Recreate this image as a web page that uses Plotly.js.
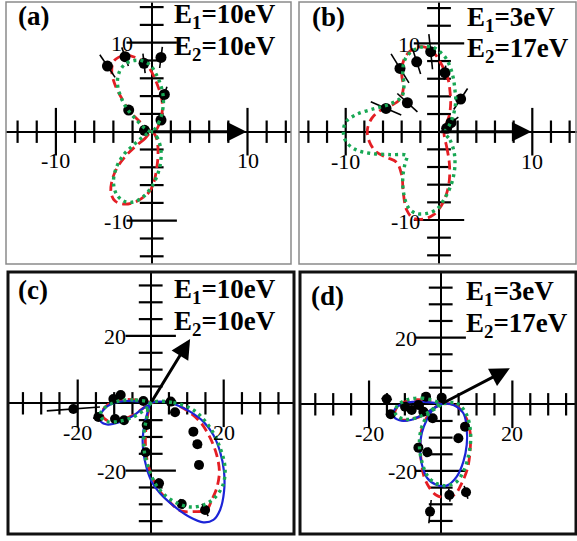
<!DOCTYPE html>
<html><head><meta charset="utf-8">
<script src="https://cdn.plot.ly/plotly-3.0.1.min.js"></script>
<style>html,body{margin:0;padding:0;background:#fff;}#chart{width:577px;height:541px;}</style>
</head><body><div id="chart"></div>
<script>
// ---------- data (axis units) ----------
// Panel (a)
const aRedX = [0,-1.22,-2.26,-3.13,-3.82,-4.17,-3.99,-3.47,-2.6,-1.74,-0.87,-0.24,0.24,0.69,1.04,1.11,0.87,0.45,0,null,0,-0.69,-1.74,-2.78,-3.65,-4.17,-4.24,-3.82,-2.95,-1.91,-1.04,-0.24,0.24,0.52,0.66,0.59,0.35,0];
const aRedY = [0,1.12,2.25,3.75,5.24,6.74,7.87,8.35,8.61,8.35,7.87,7.12,6.18,4.98,3.75,2.43,1.12,0.19,0,null,0,-0.75,-1.69,-2.81,-4.12,-5.62,-6.93,-7.79,-8.13,-7.98,-7.49,-6.74,-5.62,-4.12,-2.62,-1.12,-0.37,0];
const aGreenX = [0,0.69,1.11,1.22,0.94,0.45,-0.17,-1.04,-1.91,-2.78,-3.37,-3.58,-3.23,-2.6,-1.74,-0.69,0,null,0,0.52,0.94,0.94,0.59,0,-0.87,-1.91,-2.95,-3.72,-3.99,-3.72,-2.95,-1.91,-0.87,0];
const aGreenY = [0,0.94,2.25,3.75,5.24,6.48,7.49,7.98,7.98,7.6,6.74,5.43,3.93,2.62,1.5,0.37,0,null,0,-0.56,-1.87,-3.37,-4.87,-6.18,-7.3,-7.9,-7.79,-6.93,-5.62,-4.12,-2.62,-1.5,-0.56,0];
const aPtX = [-4.62,-2.78,-0.8,0.97,1.32,-2.4,0.97,-0.75];
const aPtY = [7.38,8.43,7.68,8.35,4.19,2.43,1.31,0.15];
const aPtErr = [1.5,1.1,1.1,1.2,0.9,0.3,0.6,0.2];
const aArrow = [9.9, 0];

// Panel (b)
const bRedX = [0.54,0.82,1.11,1.11,0.82,0.29,-0.61,-1.68,-2.75,-3.46,-3.82,-4.0,-4.54,-5.61,-6.75,-7.46,-7.68,-7.21,-6.32,-5.25,-4.25,-3.82,-4.0,-3.75,-3.04,-2.04,-1.14,-0.43,0.11,0.57,1.0,1.18,1.25,1.11,0.75,0.54];
const bRedY = [-0.19,-1.7,-3.58,-5.47,-6.98,-8.3,-9.43,-9.89,-9.81,-8.87,-6.98,-4.91,-3.47,-2.91,-2.26,-1.13,0.19,1.51,2.38,2.91,3.58,4.91,6.6,8.19,9.17,9.62,9.43,8.79,7.92,6.98,5.85,4.53,3.21,1.89,0.75,-0.19];
const bGreenX = [0.64,1.18,1.61,1.71,1.46,1.0,0.39,-0.25,-1.32,-2.46,-3.29,-3.75,-3.89,-3.64,-3.46,-5.25,-7.39,-9.0,-9.96,-10.25,-9.96,-8.82,-6.86,-5.25,-4.0,-3.75,-3.89,-3.64,-2.82,-1.68,-0.61,0.29,0.82,1.25,1.54,1.71,1.79,1.54,1.11,0.64];
const bGreenY = [-0.11,-0.94,-2.26,-3.77,-5.47,-6.79,-7.92,-8.79,-9.25,-9.25,-8.57,-7.17,-5.28,-3.58,-2.72,-2.6,-2.45,-2.0,-1.13,0,1.13,1.96,2.64,3.13,3.96,5.28,6.79,8.19,9.17,9.62,9.55,8.87,8.19,7.17,6.04,4.72,3.4,1.89,0.75,-0.11];
const bPtX = [-5.68,-3.39,-4.18,-2.39,-0.89,0.64,2.32,1.29,0.82];
const bPtY = [2.64,3.28,7.17,7.92,9.06,6.68,3.7,1.02,0.38];
const bPtErr = [1.8,1.5,1.9,1.45,2.0,0.8,1.4,1.0,0.3];
const bArrow = [9.9, 0];

// Panel (c)
const cBlueX = [0,3.47,7.12,10.78,14.43,17.17,19.0,20.09,20.09,19.0,17.17,14.43,10.78,6.21,2.56,0.27,-1.1,-2.01,-2.19,-1.55,-0.64,0,null,0,-2.92,-6.58,-10.23,-12.97,-14.06,-12.24,-8.58,-4.75,-1.83,0];
const cBlueY = [0,0.5,-0.5,-2.48,-5.45,-9.41,-14.36,-20.3,-26.24,-31.68,-34.65,-35.35,-33.86,-30.4,-26.73,-23.27,-19.31,-14.36,-10.4,-5.45,-1.98,0,null,0,0.5,0.69,0,-1.98,-4.65,-6.24,-5.64,-3.66,-1.29,0];
const cRedX = [0,4.38,8.95,13.33,16.26,18.08,18.81,18.08,16.71,15.34,11.69,8.04,5.3,2.56,0.55,-0.91,-1.46,-1.1,-0.46,0,null,0,-3.84,-8.4,-11.87,-13.42,-12.05,-8.4,-4.75,-1.83,0];
const cRedY = [0,0.5,-1.49,-5.25,-10.2,-15.35,-20.3,-25.25,-28.71,-31.68,-32.18,-31.88,-29.41,-26.24,-22.28,-17.33,-11.39,-5.45,-1.68,0,null,0,0.99,0.99,-0.5,-2.97,-5.05,-5.05,-3.47,-1.29,0];
const cGreenX = [0,6.21,11.69,16.26,19.0,20.37,19.73,17.35,14.43,10.78,7.12,3.65,1.19,-0.55,-1.74,-1.83,-1.1,0,null,0,-4.75,-9.32,-12.79,-13.88,-11.87,-8.22,-4.57,-1.55,0];
const cGreenY = [0,0.2,-1.98,-7.23,-13.17,-19.31,-24.46,-28.22,-30.2,-30.79,-29.6,-27.03,-23.76,-19.31,-14.36,-8.91,-4.46,0,null,0,0.99,0.5,-1.49,-3.66,-5.45,-5.25,-3.96,-1.78,0];
const cPtX = [-21.19,-14.34,-10.23,-8.22,-9.77,-7.31,-2.01,-1.1,-1.37,2.28,8.49,14.89,13.24,12.79,11.69,5.48,6.67];
const cPtY = [-1.68,-4.06,1.29,2.48,-4.65,-5.05,0.69,-6.44,-14.55,-23.76,-29.9,-31.68,-18.32,-12.18,-8.42,0.5,-2.67];
const cPtErr = [7.3,1.5,1,1,0.8,0.8,0.5,1.5,1,1.5,1.5,2,1.5,1.5,1,1.5,1];
const cArrow = [10.8, 19.1];

// Panel (d)
const dBlueX = [0,3.53,6.33,7.26,7.26,6.33,4.47,1.67,-1.12,-3.72,-5.21,-5.77,-5.3,-3.91,-1.86,0,null,0,-2.98,-6.7,-10.42,-12.74,-13.21,-11.53,-8.37,-4.84,-1.86,0];
const dBlueY = [0,-0.2,-2.7,-7.2,-12.2,-17.2,-21.7,-24.4,-24.2,-22.2,-18.2,-13.7,-8.7,-4.7,-1.2,0,null,0,0.6,0.8,0.2,-1.4,-3.4,-4.8,-4.7,-3.0,-1.2,0];
const dRedX = [0,4.0,6.79,8.19,8.19,7.44,5.86,4.0,1.21,-1.3,-3.16,-4.65,-5.4,-5.77,-5.21,-3.44,-1.3,0,null,0,-4.84,-9.3,-12.09,-12.74,-10.88,-7.16,-3.91,-1.12,0];
const dRedY = [0,-0.2,-3.4,-8.2,-14.2,-19.4,-23.7,-27.0,-28.0,-27.2,-25.0,-21.7,-17.2,-12.2,-7.2,-3.2,-0.7,0,null,0,1.3,1.0,-0.7,-3.2,-4.7,-4.2,-2.7,-0.7,0];
const dGreenX = [0,4.47,7.26,8.37,7.81,6.33,4.47,1.67,-1.12,-3.53,-5.21,-5.95,-5.4,-3.91,-1.58,0,null,0,-4.84,-9.49,-12.28,-12.47,-9.95,-6.7,-3.44,-0.65,0];
const dGreenY = [0,0.3,-3.2,-9.2,-15.2,-20.2,-23.2,-24.4,-23.8,-21.7,-17.4,-12.2,-7.2,-3.7,-0.8,0,null,0,1.8,1.3,-0.7,-3.2,-4.5,-4.0,-2.4,-0.7,0];
const dPtX = [-15.07,-13.95,-9.95,-8.09,-6.23,-4.09,-4.84,-2.23,0.28,6.79,4.93,-6.23,-3.72,2.42,7.07,-2.98];
const dPtY = [1.6,-3.0,-0.7,-1.7,-0.2,2.3,-2.2,-4.2,2.0,-6.7,-10.2,-13.0,-14.4,-27.2,-26.4,-32.2];
const dPtErr = [1.5,1,0.8,0.8,0.8,0.8,0.8,1,0.8,1.2,1.2,1.2,1.5,2,2,3.5];
const dArrow = [19.3, 10.8];

// Axis ticks and labels
const ticksAB = [-14,-12,-10,-8,-6,-4,-2,2,4,6,8,10,12,14];
const majorAB = [-10,10];
const labelsAB = ['-10','10'];
const ticksCD = [-35,-30,-25,-20,-15,-10,-5,5,10,15,20,25,30,35];
const majorCD = [-20,20];
const labelsCD = ['-20','20'];

const panelNames = ['(a)','(b)','(c)','(d)'];
const energy1 = ['10eV','3eV','10eV','3eV'];
const energy2 = ['10eV','17eV','10eV','17eV'];

// ---------- drawing ----------
const W = 577, H = 541;
const PX = v => v / W, PY = v => 1 - v / H;
const RED = 'rgb(228,30,36)', GREEN = 'rgb(24,168,84)', BLUE = 'rgb(28,36,215)';
const FONT = '"Liberation Serif", "Times New Roman", Times, serif';

function radialBars(xs, ys, es) {
  const bx = [], by = [];
  for (let i = 0; i < xs.length; i++) {
    const r = Math.hypot(xs[i], ys[i]) || 1;
    const ux = xs[i] / r, uy = ys[i] / r, e = es[i];
    bx.push(xs[i] - e * ux, xs[i] + e * ux, null);
    by.push(ys[i] - e * uy, ys[i] + e * uy, null);
  }
  return {bx, by};
}

const panels = [
  {s:'',  red:[aRedX,aRedY], green:[aGreenX,aGreenY], blue:null, pts:[aPtX,aPtY,aPtErr], arrow:aArrow,
   ticks:ticksAB, major:majorAB, labels:labelsAB,
   dom:[6,291,2,264], org:[151.7,131.7], sc:[9.58,8.9], frame:'#8a8a8a', fw:1.5,
   xlShift:-29, ylShift:-17, letter:[16,16], e1:[172,16], e2:[172,48], msize:11},
  {s:'2', red:[bRedX,bRedY], green:[bGreenX,bGreenY], blue:null, pts:[bPtX,bPtY,bPtErr], arrow:bArrow,
   ticks:ticksAB, major:majorAB, labels:labelsAB,
   dom:[299,577,2,264], org:[439,131.7], sc:[9.33,8.83], frame:'#8a8a8a', fw:1.5,
   xlShift:-30, ylShift:-17, letter:[310,17], e1:[465,19], e2:[465,50], msize:11},
  {s:'3', red:[cRedX,cRedY], green:[cGreenX,cGreenY], blue:[cBlueX,cBlueY], pts:[cPtX,cPtY,cPtErr], arrow:cArrow,
   ticks:ticksCD, major:majorCD, labels:labelsCD,
   dom:[8,294,272,534], org:[150.7,403.3], sc:[3.65,3.367], frame:'#111', fw:3,
   xlShift:-29, ylShift:-23, letter:[16,290], e1:[172,291], e2:[172,323], msize:10},
  {s:'4', red:[dRedX,dRedY], green:[dGreenX,dGreenY], blue:[dBlueX,dBlueY], pts:[dPtX,dPtY,dPtErr], arrow:dArrow,
   ticks:ticksCD, major:majorCD, labels:labelsCD,
   dom:[300,577,272,534], org:[440.7,404.3], sc:[3.583,3.333], frame:'#111', fw:3,
   xlShift:-29, ylShift:-22, letter:[309,296], e1:[464,293], e2:[464,325], msize:10}
];

const traces = [], annotations = [], shapes = [];
const layout = {
  width: W, height: H, margin:{l:0,r:0,t:0,b:0},
  paper_bgcolor:'#fff', plot_bgcolor:'rgba(0,0,0,0)', showlegend:false,
  font:{family:FONT, color:'#000'}
};

panels.forEach((p, idx) => {
  const xa = 'x' + p.s, ya = 'y' + p.s;
  const xr = [(p.dom[0]-p.org[0])/p.sc[0], (p.dom[1]-p.org[0])/p.sc[0]];
  const yr = [(p.org[1]-p.dom[3])/p.sc[1], (p.org[1]-p.dom[2])/p.sc[1]];
  const axBase = {showgrid:false, zeroline:true, zerolinecolor:'#000', zerolinewidth:2.2,
                  showticklabels:false, ticks:'', showline:false, fixedrange:true};
  layout['xaxis' + p.s] = Object.assign({}, axBase, {domain:[PX(p.dom[0]), PX(p.dom[1])], range:xr, anchor:ya});
  layout['yaxis' + p.s] = Object.assign({}, axBase, {domain:[PY(p.dom[3]), PY(p.dom[2])], range:yr, anchor:xa});

  const minor = p.ticks.filter(t => p.major.indexOf(t) < 0);
  const zerosMinor = minor.map(() => 0), zerosMajor = p.major.map(() => 0);
  const tk = (x, y, sym, size) => ({x, y, xaxis:xa, yaxis:ya, mode:'markers', hoverinfo:'skip',
     marker:{symbol:sym, size, color:'#000', line:{color:'#000', width:2.2}}, cliponaxis:false});
  traces.push(tk(minor, zerosMinor, 'line-ns', 16));
  traces.push(tk(p.major, zerosMajor, 'line-ns', 34));
  traces.push(tk(zerosMinor, minor, 'line-ew', 17));
  traces.push(tk(zerosMajor, p.major, 'line-ew', 36));

  traces.push({x:p.red[0], y:p.red[1], xaxis:xa, yaxis:ya, mode:'lines', hoverinfo:'skip', connectgaps:false,
     line:{color:RED, width:2.8, dash:'9px,5px', shape:'spline', smoothing:1}});
  if (p.blue) traces.push({x:p.blue[0], y:p.blue[1], xaxis:xa, yaxis:ya, mode:'lines', hoverinfo:'skip', connectgaps:false,
     line:{color:BLUE, width:2.2, shape:'spline', smoothing:1}});
  const eb = radialBars(p.pts[0], p.pts[1], p.pts[2]);
  traces.push({x:eb.bx, y:eb.by, xaxis:xa, yaxis:ya, mode:'lines', hoverinfo:'skip', connectgaps:false,
     line:{color:'#000', width:1.6}});
  traces.push({x:p.pts[0], y:p.pts[1], xaxis:xa, yaxis:ya, mode:'markers', hoverinfo:'skip',
     marker:{symbol:'circle', size:p.msize, color:'#000'}});
  traces.push({x:p.green[0], y:p.green[1], xaxis:xa, yaxis:ya, mode:'lines', hoverinfo:'skip', connectgaps:false,
     line:{color:GREEN, width:3.4, dash:'3px,4px', shape:'spline', smoothing:1}});

  // arrow
  annotations.push({x:p.arrow[0], y:p.arrow[1], ax:0, ay:0, xref:xa, yref:ya, axref:xa, ayref:ya,
     text:'', showarrow:true, arrowhead:2, arrowsize:1.3, arrowwidth:3, arrowcolor:'#000'});
  // tick labels
  p.major.forEach((v, i) => {
    annotations.push({x:v, y:0, xref:xa, yref:ya, text:p.labels[i], showarrow:false,
       xanchor:'center', yanchor:'middle', yshift:p.xlShift, font:{family:FONT, size:22, color:'#000'}});
    annotations.push({x:0, y:v, xref:xa, yref:ya, text:p.labels[i], showarrow:false,
       xanchor:'right', yanchor:'middle', xshift:p.ylShift, yshift:-1, font:{family:FONT, size:22, color:'#000'}});
  });
  // panel texts
  annotations.push({x:PX(p.letter[0]), y:PY(p.letter[1]), xref:'paper', yref:'paper', xanchor:'left', yanchor:'middle',
     text:'<b>' + panelNames[idx] + '</b>', showarrow:false, font:{family:FONT, size:27, color:'#000'}});
  annotations.push({x:PX(p.e1[0]), y:PY(p.e1[1]), xref:'paper', yref:'paper', xanchor:'left', yanchor:'middle',
     text:'<b>E<sub>1</sub>=' + energy1[idx] + '</b>', showarrow:false, font:{family:FONT, size:27, color:'#000'}});
  annotations.push({x:PX(p.e2[0]), y:PY(p.e2[1]), xref:'paper', yref:'paper', xanchor:'left', yanchor:'middle',
     text:'<b>E<sub>2</sub>=' + energy2[idx] + '</b>', showarrow:false, font:{family:FONT, size:27, color:'#000'}});
  // frame
  shapes.push({type:'rect', xref:'paper', yref:'paper', x0:PX(p.dom[0]), x1:PX(Math.min(p.dom[1], 576)),
     y0:PY(p.dom[3]), y1:PY(p.dom[2]), line:{color:p.frame, width:p.fw}, fillcolor:'rgba(0,0,0,0)', layer:'above'});
});

layout.annotations = annotations;
layout.shapes = shapes;
Plotly.newPlot('chart', traces, layout, {staticPlot:true, displayModeBar:false});
</script>
</body></html>
